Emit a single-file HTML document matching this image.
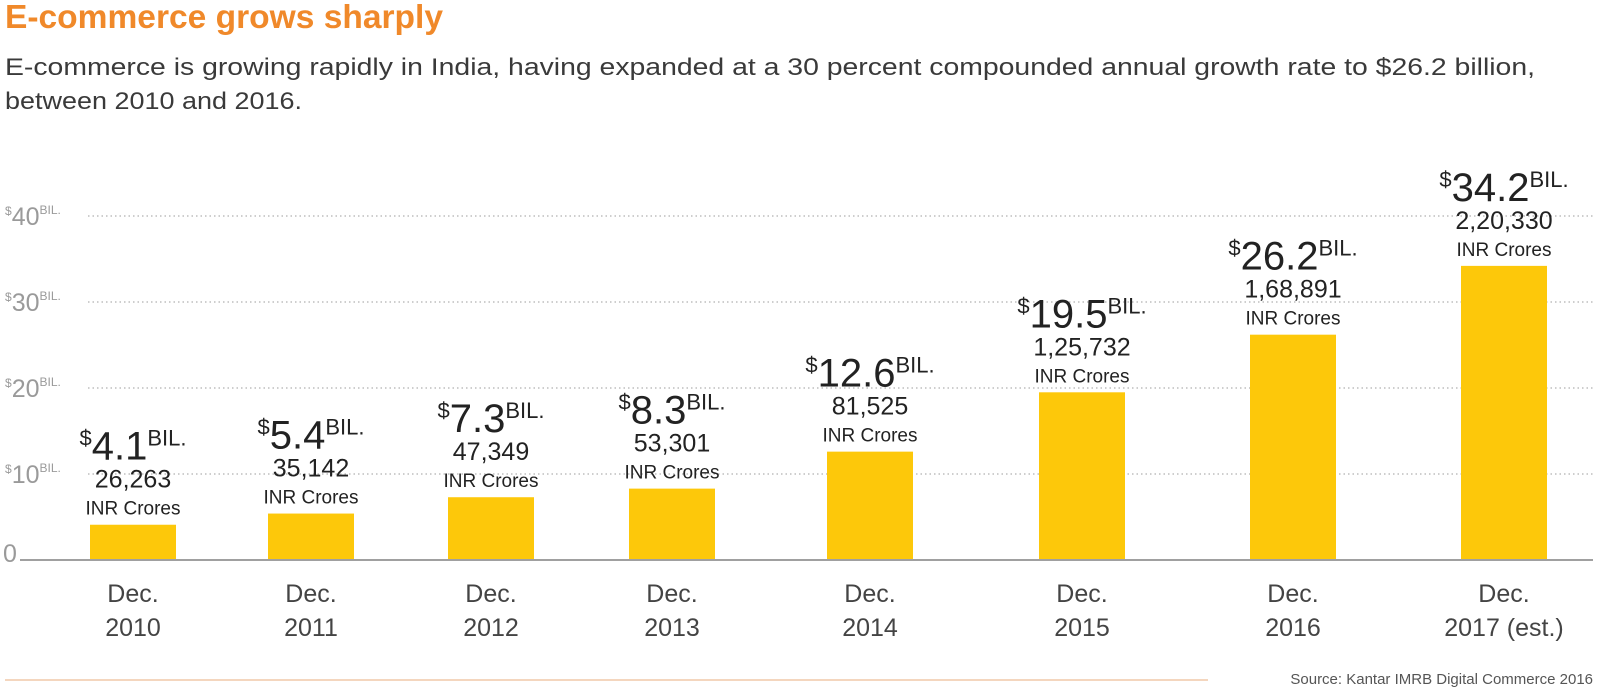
<!DOCTYPE html>
<html><head><meta charset="utf-8"><style>
html,body{margin:0;padding:0;background:#fff;}
svg{display:block;font-family:"Liberation Sans",sans-serif;}
</style></head><body>
<svg id="chart" width="1600" height="690" viewBox="0 0 1600 690">
<text x="5" y="28" font-size="33" font-weight="bold" fill="#f0892a" textLength="438" lengthAdjust="spacingAndGlyphs">E-commerce grows sharply</text>
<text x="5" y="75" font-size="24" fill="#3a3a3a" textLength="1530" lengthAdjust="spacingAndGlyphs">E-commerce is growing rapidly in India, having expanded at a 30 percent compounded annual growth rate to $26.2 billion,</text>
<text x="5" y="109" font-size="24" fill="#3a3a3a" textLength="297" lengthAdjust="spacingAndGlyphs">between 2010 and 2016.</text>
<g id="grid"></g>
<g id="bars"></g>
<line x1="20" y1="560" x2="1593" y2="560" stroke="#a0a0a0" stroke-width="2"/>
<line x1="5" y1="680" x2="1208" y2="680" stroke="#f0c8a8" stroke-width="1.5"/>
<text x="1593" y="684" font-size="15" fill="#555" text-anchor="end">Source: Kantar IMRB Digital Commerce 2016</text>
</svg>
<script>
const categories = ["2010","2011","2012","2013","2014","2015","2016","2017 (est.)"];
const valuesBil = [4.1,5.4,7.3,8.3,12.6,19.5,26.2,34.2];
const inrCrores = ["26,263","35,142","47,349","53,301","81,525","1,25,732","1,68,891","2,20,330"];
const yTicks = [0,10,20,30,40];

const NS="http://www.w3.org/2000/svg";
const y0=560, pxPer=8.6;
const slotCenters=[133,311,491,672,870,1082,1293,1504];
function yScale(v){return y0 - v*pxPer;}
function xCenter(i){return slotCenters[i];}
function mk(tag,attrs,parent,text){const e=document.createElementNS(NS,tag);for(const k in attrs)e.setAttribute(k,attrs[k]);if(text!==undefined)e.textContent=text;parent.appendChild(e);return e;}

const grid=document.getElementById('grid');
yTicks.forEach(t=>{
  const y=yScale(t);
  if(t>0){
    const l=mk('line',{x1:88,y1:y,x2:1593,y2:y,stroke:'#b0b0b0','stroke-width':1.2,'stroke-dasharray':'1.5,3'},grid);
    
    
    const tx=mk('text',{x:5,y:y+9,fill:'#9a9a9a','font-size':25},grid);
    
    
    mk('tspan',{'font-size':12,dy:-10},tx,'$');
    mk('tspan',{'font-size':25,dy:10},tx,String(t));
    mk('tspan',{'font-size':12,dy:-11},tx,'BIL.');
  } else {
    const tx=mk('text',{x:3,y:y+2,fill:'#9a9a9a','font-size':25},grid,'0');
    
    
  }
});

const bars=document.getElementById('bars');
categories.forEach((c,i)=>{
  const cx=xCenter(i), top=yScale(valuesBil[i]);
  const r=mk('rect',{x:cx-43,y:top,width:86,height:y0-top,fill:'#fdc80a'},bars);
  
  
  const inr=mk('text',{x:cx,y:top-10,'font-size':19,fill:'#222','text-anchor':'middle'},bars,'INR Crores');
  
  
  const num=mk('text',{x:cx,y:top-37,'font-size':25,fill:'#222','text-anchor':'middle'},bars,inrCrores[i]);
  
  
  const v=mk('text',{x:cx,y:top-65,'font-size':40,fill:'#222','text-anchor':'middle'},bars);
  
  
  mk('tspan',{'font-size':22,dy:-14},v,'$');
  mk('tspan',{'font-size':40,dy:14},v,valuesBil[i].toFixed(1));
  mk('tspan',{'font-size':22,dy:-14},v,'BIL.');
  const d=mk('text',{x:cx,y:602,'font-size':25,fill:'#444','text-anchor':'middle'},bars,'Dec.');
  
  
  const yr=mk('text',{x:cx,y:636,'font-size':25,fill:'#444','text-anchor':'middle'},bars,c);
  
  
});
</script>
</body></html>
